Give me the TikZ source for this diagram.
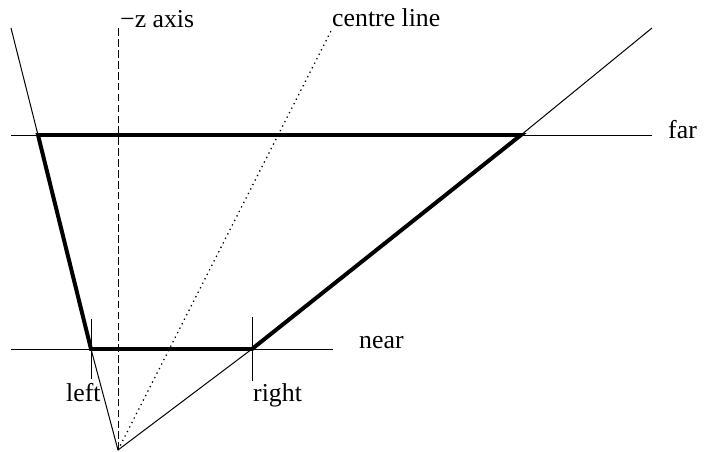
\documentclass[tikz,border=0pt]{standalone}
\usepackage{fontspec}
\setmainfont{Liberation Serif}
\usetikzlibrary{positioning, calc}
\tikzset{
  thinline/.style={draw=black, line width=0.85pt},
  thickline/.style={draw=black, line width=3.4pt},
  tickline/.style={draw=black, line width=0.85pt},
  axisline/.style={draw=black, line width=0.85pt, dash pattern=on 6.5pt off 2.8pt},
  centreline/.style={draw=black, line width=1.1pt, dash pattern=on 1.1pt off 3.2pt},
  lbl/.style={font=\fontsize{22}{24}\selectfont, inner sep=0pt, anchor=base west},
}

\begin{document}
\begin{tikzpicture}[x=0.03cm, y=-0.03cm]
  \useasboundingbox (0,0) rectangle (708,451);

  % key points of the frustum
  \coordinate (apex)      at (118,450);
  \coordinate (ltop)      at (11,28);
  \coordinate (rtop)      at (652,28);
  \coordinate (fl)        at (38,135);
  \coordinate (fr)        at (521,135);
  \coordinate (nl)        at (91,349);
  \coordinate (nr)        at (252,349);
  \coordinate (farleft)   at (11,135);
  \coordinate (farright)  at (652,135);
  \coordinate (nearleft)  at (11,349);
  \coordinate (nearright) at (333,349);
  \coordinate (ztop)      at (118,28);
  \coordinate (ctop)      at (332,29);

  % clipping planes and view lines
  \draw[thinline] (farleft) -- (farright);
  \draw[thinline] (nearleft) -- (nearright);
  \draw[thinline] (apex) -- (nl) -- (fl) -- (ltop);
  \draw[thinline] (apex) -- (nr) -- (fr) -- (rtop);

  % axis and centre line
  \draw[axisline] (apex) -- (ztop);
  \draw[centreline] (apex) -- (ctop);

  % the frustum itself
  \draw[thickline] (nl) -- (nr) -- (fr) -- (fl) -- cycle;

  % ticks on the near plane
  \draw[tickline] ([yshift=-26]nl) -- ([yshift=26]nl);
  \draw[tickline] ([yshift=-27]nr) -- ([yshift=27]nr);

  % labels
  \node[lbl] (zlab)    at (120,28)  {−z axis};
  \node[lbl] (clab)    at (332,27)  {centre line};
  \node[lbl] (farlab)  at (668,138) {far};
  \node[lbl] (nearlab) at (359,348) {near};
  \node[lbl] (leftlab) at (66,401)  {left};
  \node[lbl] (rightlab) at (253,401) {right};
\end{tikzpicture}
\end{document}
